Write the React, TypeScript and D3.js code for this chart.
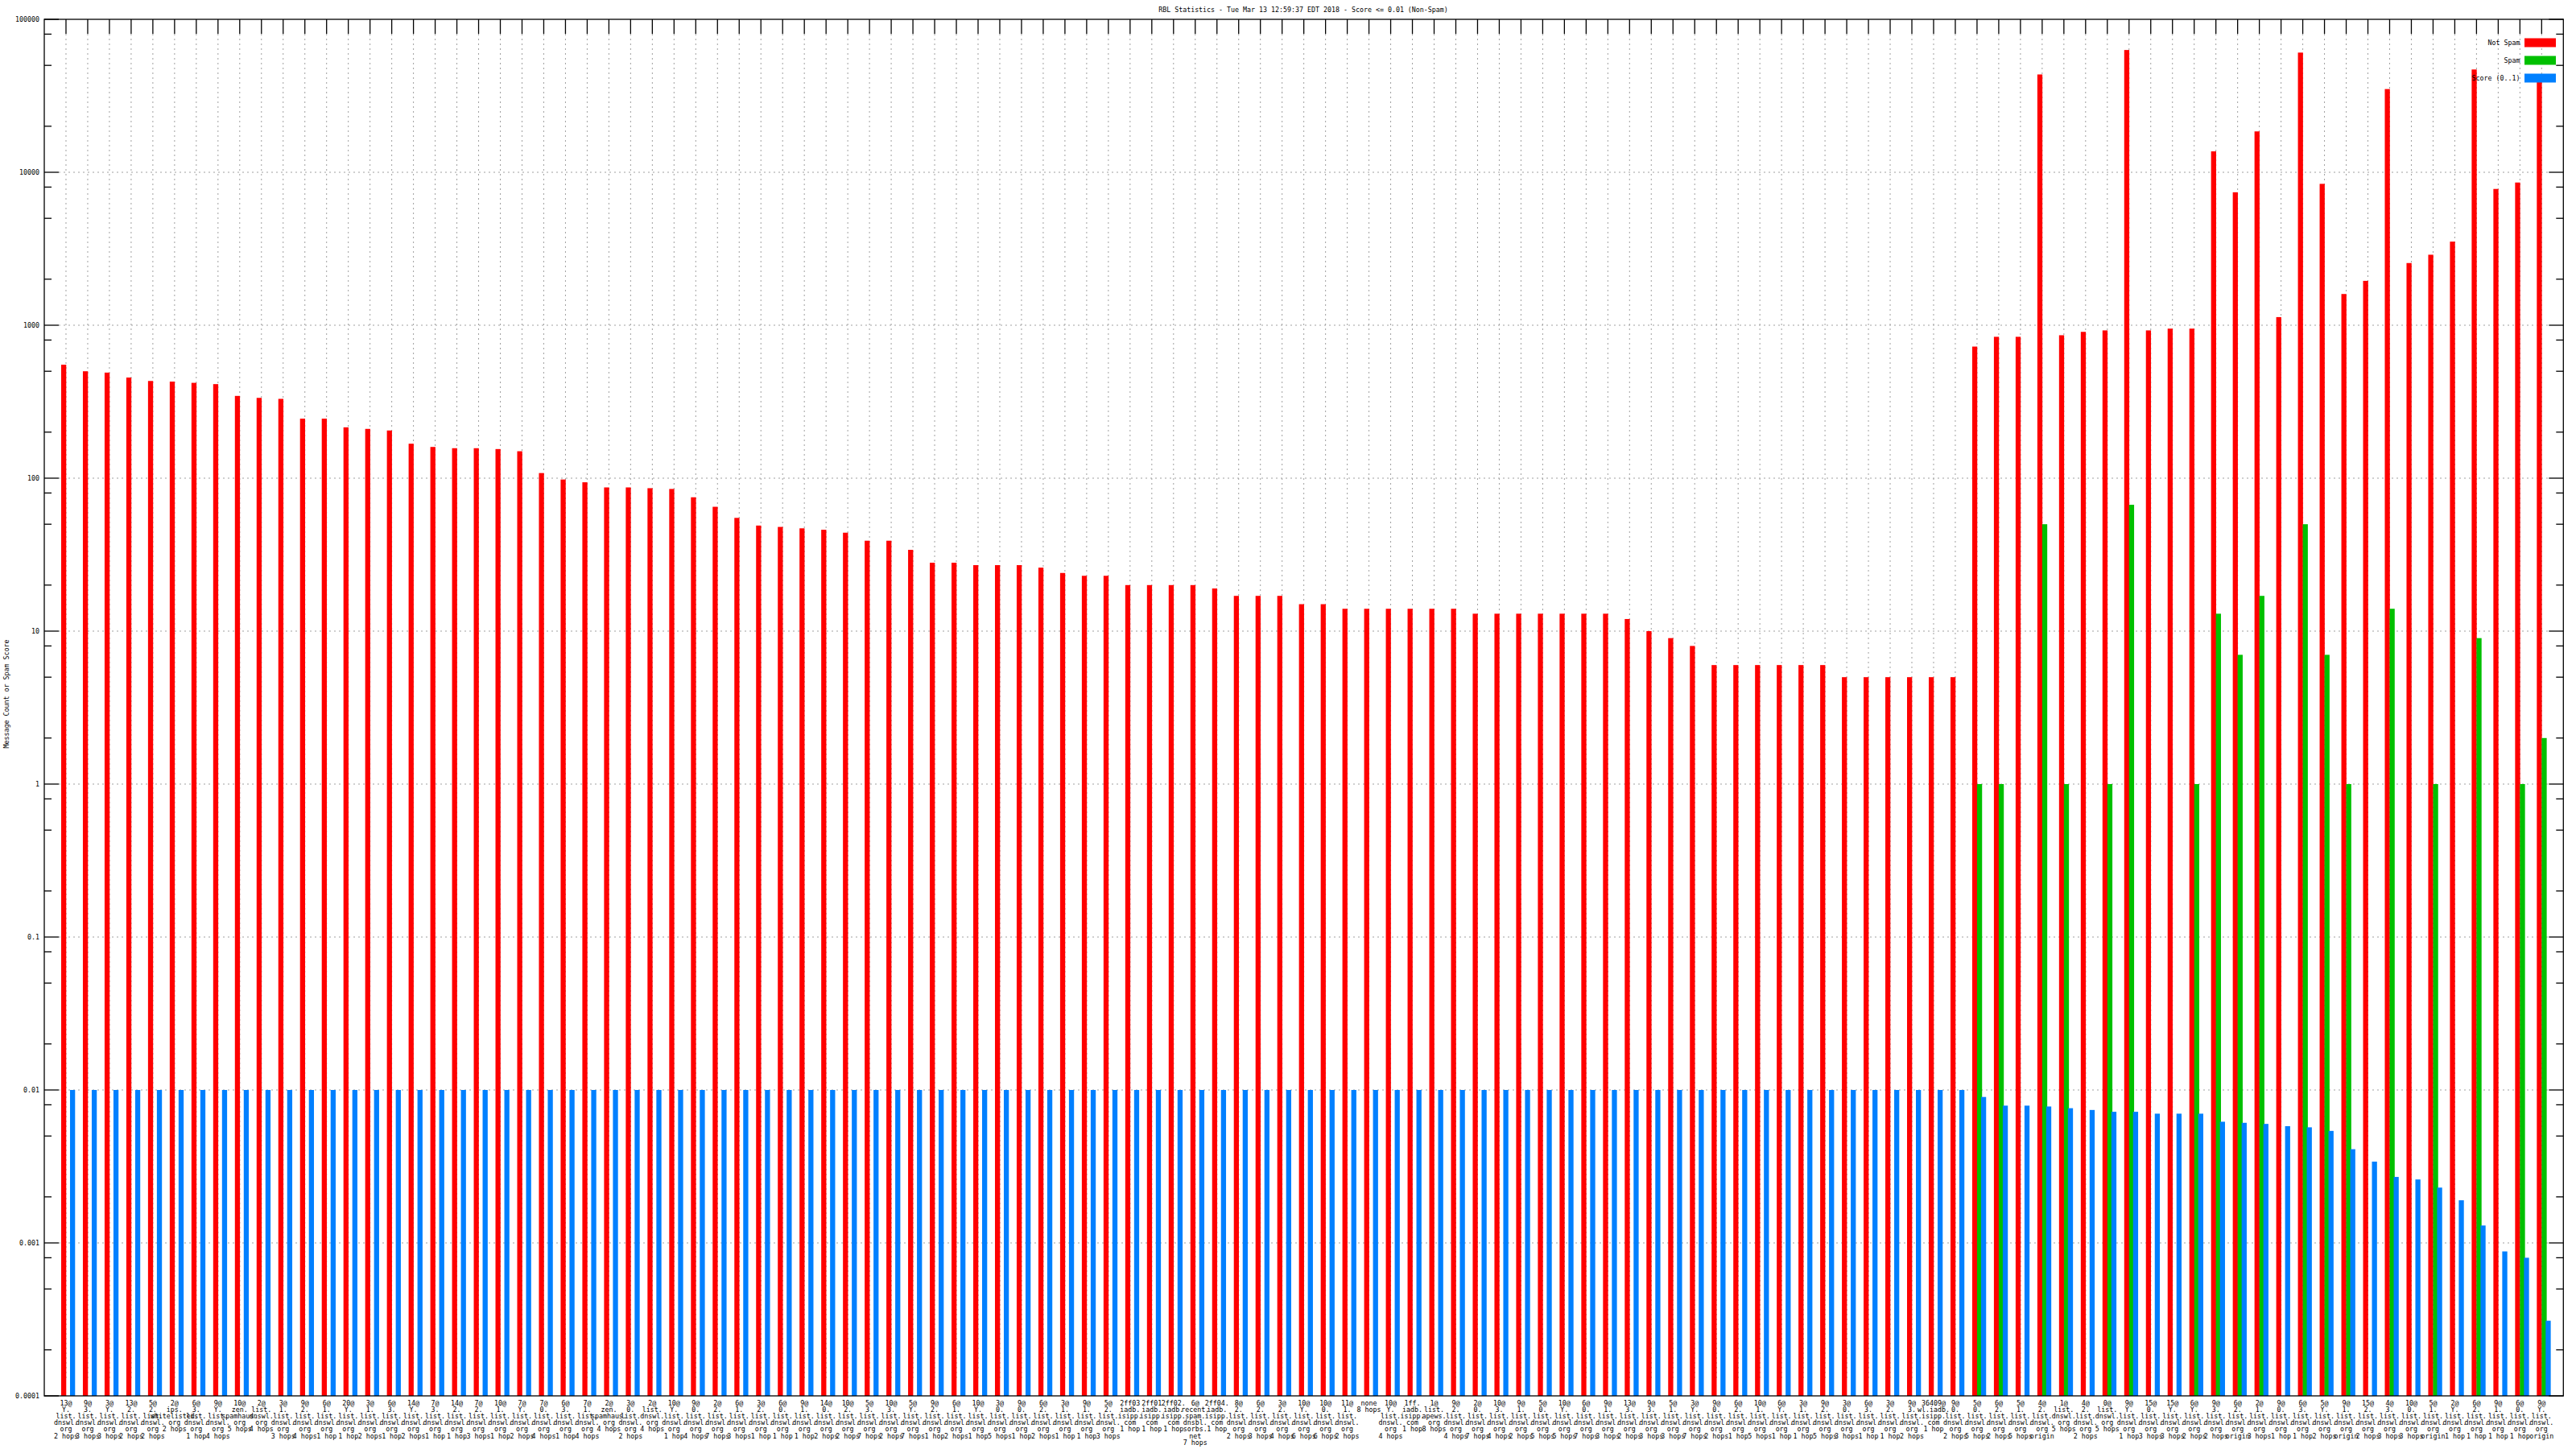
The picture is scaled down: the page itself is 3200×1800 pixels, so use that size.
import { useEffect, useRef } from "react";
import * as d3 from "d3";

const W = 3200;
const H = 1800;

const title =
  "RBL Statistics - Tue Mar 13 12:59:37 EDT 2018 - Score <= 0.01 (Non-Spam)";
const yTitle = "Message Count or Spam Score";
const seriesNames = ["Not Spam", "Spam", "Score (0..1)"];
const seriesColors = ["#ff0000", "#00c000", "#0080ff"];

const yTicks = [1e-4, 1e-3, 1e-2, 1e-1, 1, 10, 100, 1000, 10000, 100000];
const yTickLabels = ["0.0001", "0.001", "0.01", "0.1", "1", "10", "100", "1000", "10000", "100000"];

// x labels, one per category, lines split with "\n"
const labels = [
  "13@\nY.\nlist.\ndnswl.\norg\n2 hops",
  "9@\n3.\nlist.\ndnswl.\norg\n3 hops",
  "3@\nY.\nlist.\ndnswl.\norg\n3 hops",
  "13@\n2.\nlist.\ndnswl.\norg\n2 hops",
  "5@\n2.\nlist.\ndnswl.\norg\n2 hops",
  "2@\nips.\nwhitelisted.\norg\n2 hops",
  "6@\n3.\nlist.\ndnswl.\norg\n1 hop",
  "9@\nY.\nlist.\ndnswl.\norg\n4 hops",
  "10@\nzen.\nspamhaus.\norg\n5 hops",
  "2@\nlist.\ndnswl.\norg\n4 hops",
  "3@\n1.\nlist.\ndnswl.\norg\n3 hops",
  "9@\n2.\nlist.\ndnswl.\norg\n4 hops",
  "6@\n1.\nlist.\ndnswl.\norg\n1 hop",
  "20@\nY.\nlist.\ndnswl.\norg\n1 hop",
  "3@\n1.\nlist.\ndnswl.\norg\n2 hops",
  "6@\n3.\nlist.\ndnswl.\norg\n1 hop",
  "14@\nY.\nlist.\ndnswl.\norg\n2 hops",
  "7@\n3.\nlist.\ndnswl.\norg\n1 hop",
  "14@\n2.\nlist.\ndnswl.\norg\n1 hop",
  "7@\n2.\nlist.\ndnswl.\norg\n3 hops",
  "10@\n1.\nlist.\ndnswl.\norg\n1 hop",
  "7@\nY.\nlist.\ndnswl.\norg\n2 hops",
  "7@\n0.\nlist.\ndnswl.\norg\n4 hops",
  "6@\n3.\nlist.\ndnswl.\norg\n1 hop",
  "7@\n1.\nlist.\ndnswl.\norg\n4 hops",
  "2@\nzen.\nspamhaus.\norg\n4 hops",
  "3@\n0.\nlist.\ndnswl.\norg\n2 hops",
  "2@\nlist.\ndnswl.\norg\n4 hops",
  "10@\nY.\nlist.\ndnswl.\norg\n1 hop",
  "9@\n0.\nlist.\ndnswl.\norg\n4 hops",
  "2@\n2.\nlist.\ndnswl.\norg\n7 hops",
  "6@\n1.\nlist.\ndnswl.\norg\n3 hops",
  "3@\n2.\nlist.\ndnswl.\norg\n1 hop",
  "6@\n0.\nlist.\ndnswl.\norg\n1 hop",
  "9@\n1.\nlist.\ndnswl.\norg\n1 hop",
  "14@\n0.\nlist.\ndnswl.\norg\n2 hops",
  "10@\n2.\nlist.\ndnswl.\norg\n2 hops",
  "5@\n3.\nlist.\ndnswl.\norg\n7 hops",
  "10@\n3.\nlist.\ndnswl.\norg\n2 hops",
  "5@\nY.\nlist.\ndnswl.\norg\n7 hops",
  "9@\n2.\nlist.\ndnswl.\norg\n1 hop",
  "6@\n1.\nlist.\ndnswl.\norg\n2 hops",
  "10@\nY.\nlist.\ndnswl.\norg\n1 hop",
  "3@\n0.\nlist.\ndnswl.\norg\n5 hops",
  "9@\n0.\nlist.\ndnswl.\norg\n1 hop",
  "6@\n2.\nlist.\ndnswl.\norg\n2 hops",
  "3@\n1.\nlist.\ndnswl.\norg\n1 hop",
  "9@\n1.\nlist.\ndnswl.\norg\n1 hop",
  "5@\n2.\nlist.\ndnswl.\norg\n3 hops",
  "2ff03\niadb.\nisipp.\ncom\n1 hop",
  "2ff01\niadb.\nisipp.\ncom\n1 hop",
  "2ff02.\niadb.\nisipp.\ncom\n1 hop",
  "6@\nrecent.\nspam.\ndnsbl.\nsorbs.\nnet\n7 hops",
  "2ff04.\niadb.\nisipp.\ncom\n1 hop",
  "8@\n2.\nlist.\ndnswl.\norg\n2 hops",
  "6@\n2.\nlist.\ndnswl.\norg\n3 hops",
  "3@\n2.\nlist.\ndnswl.\norg\n4 hops",
  "10@\nY.\nlist.\ndnswl.\norg\n6 hops",
  "10@\n0.\nlist.\ndnswl.\norg\n6 hops",
  "11@\n1.\nlist.\ndnswl.\norg\n2 hops",
  "none\n8 hops",
  "10@\nY.\nlist.\ndnswl.\norg\n4 hops",
  "1ff.\niadb.\nisipp.\ncom\n1 hop",
  "1@\nlist.\napews.\norg\n8 hops",
  "9@\n2.\nlist.\ndnswl.\norg\n4 hops",
  "2@\n0.\nlist.\ndnswl.\norg\n7 hops",
  "10@\n3.\nlist.\ndnswl.\norg\n4 hops",
  "9@\n1.\nlist.\ndnswl.\norg\n2 hops",
  "5@\n0.\nlist.\ndnswl.\norg\n5 hops",
  "10@\nY.\nlist.\ndnswl.\norg\n5 hops",
  "6@\n0.\nlist.\ndnswl.\norg\n7 hops",
  "9@\n1.\nlist.\ndnswl.\norg\n3 hops",
  "13@\n3.\nlist.\ndnswl.\norg\n2 hops",
  "9@\n3.\nlist.\ndnswl.\norg\n3 hops",
  "5@\n1.\nlist.\ndnswl.\norg\n3 hops",
  "3@\nY.\nlist.\ndnswl.\norg\n7 hops",
  "9@\n0.\nlist.\ndnswl.\norg\n2 hops",
  "6@\n2.\nlist.\ndnswl.\norg\n1 hop",
  "10@\n1.\nlist.\ndnswl.\norg\n5 hops",
  "6@\nY.\nlist.\ndnswl.\norg\n1 hop",
  "3@\n1.\nlist.\ndnswl.\norg\n1 hop",
  "9@\n2.\nlist.\ndnswl.\norg\n5 hops",
  "3@\n0.\nlist.\ndnswl.\norg\n3 hops",
  "6@\n3.\nlist.\ndnswl.\norg\n1 hop",
  "3@\n2.\nlist.\ndnswl.\norg\n1 hop",
  "9@\n3.\nlist.\ndnswl.\norg\n2 hops",
  "36409@\nwl.iadb.\nisipp.\ncom\n1 hop",
  "9@\n0.\nlist.\ndnswl.\norg\n2 hops",
  "5@\n0.\nlist.\ndnswl.\norg\n5 hops",
  "6@\n2.\nlist.\ndnswl.\norg\n2 hops",
  "5@\n1.\nlist.\ndnswl.\norg\n5 hops",
  "4@\n2.\nlist.\ndnswl.\norg\norigin",
  "1@\nlist.\ndnswl.\norg\n5 hops",
  "4@\n2.\nlist.\ndnswl.\norg\n2 hops",
  "0@\nlist.\ndnswl.\norg\n5 hops",
  "9@\nY.\nlist.\ndnswl.\norg\n1 hop",
  "15@\n0.\nlist.\ndnswl.\norg\n3 hops",
  "15@\nY.\nlist.\ndnswl.\norg\n3 hops",
  "6@\nY.\nlist.\ndnswl.\norg\n2 hops",
  "9@\n3.\nlist.\ndnswl.\norg\n2 hops",
  "6@\n2.\nlist.\ndnswl.\norg\norigin",
  "2@\n1.\nlist.\ndnswl.\norg\n3 hops",
  "9@\n0.\nlist.\ndnswl.\norg\n1 hop",
  "6@\n3.\nlist.\ndnswl.\norg\n1 hop",
  "5@\nY.\nlist.\ndnswl.\norg\n2 hops",
  "9@\n1.\nlist.\ndnswl.\norg\norigin",
  "15@\n2.\nlist.\ndnswl.\norg\n2 hops",
  "4@\n3.\nlist.\ndnswl.\norg\n3 hops",
  "10@\n0.\nlist.\ndnswl.\norg\n3 hops",
  "5@\n1.\nlist.\ndnswl.\norg\norigin",
  "2@\nY.\nlist.\ndnswl.\norg\n1 hop",
  "6@\n2.\nlist.\ndnswl.\norg\n1 hop",
  "9@\n1.\nlist.\ndnswl.\norg\n1 hop",
  "6@\n0.\nlist.\ndnswl.\norg\n1 hop",
  "9@\nY.\nlist.\ndnswl.\norg\norigin",
];

const notSpam = [
  552, 500, 490, 455, 432, 428, 420, 412, 345, 335, 330,
  245, 245, 215, 210, 205,
  168, 160, 157, 157, 155, 150,
  108, 98, 94, 87, 87, 86, 85,
  75, 65, 55,
  49, 48, 47, 46, 44,
  39, 39, 34,
  28, 28, 27, 27, 27, 26, 24, 23, 23,
  20, 20, 20, 20, 19,
  17, 17, 17,
  15, 15,
  14, 14, 14, 14, 14, 14,
  13, 13, 13, 13, 13, 13, 13,
  12, 10, 9, 8,
  6, 6, 6, 6, 6, 6,
  5, 5, 5, 5, 5, 5,
  725, 840, 840, 43600, 860, 905, 925, 63000, 925, 950, 950,
  13700, 7400, 18500, 1130, 60600, 8400, 1600, 1950, 35000,
  2550, 2890, 3520, 47000, 7780, 8570, 41800,
];

const spam = [
  ...new Array(88).fill(0),
  1, 1, 0, 50, 1, 0, 1, 67, 0, 0, 1,
  13, 7, 17, 0, 50, 7, 1, 0, 14,
  0, 1, 0, 9, 0, 1, 2,
];

const score = [
  ...new Array(88).fill(0.01),
  0.009, 0.0079, 0.0079, 0.0078, 0.0076, 0.0074, 0.0072, 0.0072, 0.007, 0.007, 0.007,
  0.0062, 0.0061, 0.006, 0.0058, 0.0057, 0.0054, 0.0041, 0.0034, 0.0027,
  0.0026, 0.0023, 0.0019, 0.0013, 0.00088, 0.0008, 0.00031,
];

export default function App() {
  const svgRef = useRef<SVGSVGElement | null>(null);

  useEffect(() => {
    if (!svgRef.current) return;
    const svg = d3.select(svgRef.current);
    svg.selectAll("*").remove();

    const left = 55;
    const right = 3184.3;
    const top = 24;
    const bottom = 1734;
    const font = "'DejaVu Sans Mono', monospace";
    const fs = 8.3;
    const major = 18;
    const minor = 9;

    const x = d3
      .scalePoint<number>()
      .domain(d3.range(labels.length))
      .range([left, right])
      .padding(1);
    const y = d3.scaleLog().domain([1e-4, 1e5]).range([bottom, top]);
    const bw = 6.3;

    svg.append("rect").attr("width", W).attr("height", H).attr("fill", "#fff");

    // grid
    const grid = svg.append("g").attr("stroke", "#a0a0a0").attr("stroke-width", 1).attr("stroke-dasharray", "2,4");
    grid
      .selectAll("line.h")
      .data(yTicks.slice(1, -1))
      .enter()
      .append("line")
      .attr("x1", left + major)
      .attr("x2", right - major)
      .attr("y1", (d) => y(d))
      .attr("y2", (d) => y(d));
    grid
      .selectAll("line.v")
      .data(labels.map((_, i) => i))
      .enter()
      .append("line")
      .attr("x1", (d) => x(d)!)
      .attr("x2", (d) => x(d)!)
      .attr("y1", top + major)
      .attr("y2", bottom - major);

    // bars
    const series = [notSpam, spam, score];
    const offsets = [-6, 0, 5];
    series.forEach((vals, s) => {
      svg
        .append("g")
        .selectAll("rect")
        .data(vals.map((v, i) => ({ v, i })).filter((d) => d.v > 0))
        .enter()
        .append("rect")
        .attr("x", (d) => x(d.i)! + offsets[s])
        .attr("y", (d) => y(d.v))
        .attr("width", bw)
        .attr("height", (d) => bottom - y(d.v))
        .attr("fill", seriesColors[s]);
    });

    // border
    svg
      .append("rect")
      .attr("x", left)
      .attr("y", top)
      .attr("width", right - left)
      .attr("height", bottom - top)
      .attr("fill", "none")
      .attr("stroke", "#000")
      .attr("stroke-width", 1.3);

    // ticks
    const ticks = svg.append("g").attr("stroke", "#000").attr("stroke-width", 1.3);
    const minorTicks: number[] = [];
    yTicks.slice(0, -1).forEach((t) => [2, 5, 8].forEach((m) => minorTicks.push(t * m)));
    yTicks.forEach((t) => {
      ticks.append("line").attr("x1", left).attr("x2", left + major).attr("y1", y(t)).attr("y2", y(t));
      ticks.append("line").attr("x1", right).attr("x2", right - major).attr("y1", y(t)).attr("y2", y(t));
    });
    minorTicks.forEach((t) => {
      ticks.append("line").attr("x1", left).attr("x2", left + minor).attr("y1", y(t)).attr("y2", y(t));
      ticks.append("line").attr("x1", right).attr("x2", right - minor).attr("y1", y(t)).attr("y2", y(t));
    });
    labels.forEach((_, i) => {
      ticks.append("line").attr("x1", x(i)!).attr("x2", x(i)!).attr("y1", top).attr("y2", top + major);
    });

    // y tick labels
    svg
      .append("g")
      .selectAll("text")
      .data(yTicks)
      .enter()
      .append("text")
      .attr("x", left - 6)
      .attr("y", (d) => y(d))
      .attr("dy", "0.35em")
      .attr("text-anchor", "end")
      .attr("font-family", font)
      .attr("font-size", fs)
      .text((_, i) => yTickLabels[i]);

    // x labels
    const xl = svg
      .append("g")
      .attr("font-family", font)
      .attr("font-size", fs)
      .attr("text-anchor", "middle");
    labels.forEach((lab, i) => {
      const t = xl.append("text").attr("x", x(i)!).attr("y", bottom + 12);
      lab.split("\n").forEach((line, j) => {
        t.append("tspan")
          .attr("x", x(i)!)
          .attr("dy", j === 0 ? 0 : 8.1)
          .text(line);
      });
    });

    // title
    svg
      .append("text")
      .attr("x", 1619)
      .attr("y", 15)
      .attr("text-anchor", "middle")
      .attr("font-family", font)
      .attr("font-size", fs)
      .text(title);

    // y axis title
    svg
      .append("text")
      .attr("transform", `translate(11,862) rotate(-90)`)
      .attr("text-anchor", "middle")
      .attr("font-family", font)
      .attr("font-size", fs)
      .text(yTitle);

    // legend
    const lg = svg.append("g");
    seriesNames.forEach((name, s) => {
      const cy = 53 + s * 22;
      lg.append("text")
        .attr("x", 3130.5)
        .attr("y", cy)
        .attr("dy", "0.35em")
        .attr("text-anchor", "end")
        .attr("font-family", font)
        .attr("font-size", fs)
        .text(name);
      lg.append("rect")
        .attr("x", 3136)
        .attr("y", cy - 5.5)
        .attr("width", 39)
        .attr("height", 11)
        .attr("fill", seriesColors[s]);
    });
  }, []);

  return (
    <svg
      ref={svgRef}
      width={W}
      height={H}
      style={{ position: "absolute", left: 0, top: 0, display: "block" }}
    />
  );
}
